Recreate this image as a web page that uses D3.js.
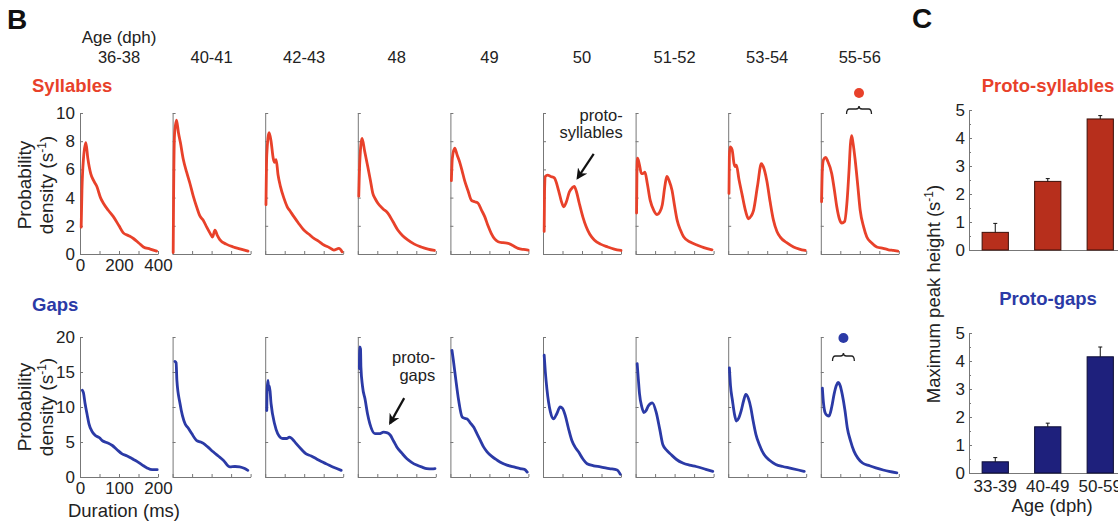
<!DOCTYPE html>
<html>
<head>
<meta charset="utf-8">
<script src="https://cdn.jsdelivr.net/npm/d3@7"></script>
<style>
  body { margin: 0; background: #fff; }
  svg { font-family: "Liberation Sans", Arial, sans-serif; }
  .ax path, .ax line { stroke: #777; stroke-width: 1; }
  .ax text { font-size: 17px; fill: #222; font-family: "Liberation Sans", Arial, sans-serif; }
</style>
</head>
<body>
<svg id="fig" width="1118" height="527"></svg>
<script>
// age groups, one column per group
let ages = ["36-38", "40-41", "42-43", "48", "49", "50", "51-52", "53-54", "55-56"];

// syllable duration densities: [duration ms, density s^-1]
let sylCurves = [
  [[6,1.9],[10,4.5],[18,6.8],[30,7.9],[40,6.8],[55,5.7],[70,5.2],[86,4.8],[105,4.0],[120,3.6],[145,3.1],[171,2.65],[200,2.0],[222,1.5],[250,1.3],[274,1.1],[300,0.8],[325,0.5],[360,0.35],[393,0.2]],
  [[3,0.1],[5,4],[10,8.5],[20,9.5],[30,8.6],[40,7.9],[55,6.7],[72,5.8],[89,5.0],[106,4.1],[123,3.35],[140,2.7],[157,2.4],[175,1.9],[191,1.5],[205,1.2],[217,1.7],[230,1.3],[243,1.0],[275,0.7],[311,0.5],[350,0.35],[387,0.2]],
  [[4,3.5],[8,7.0],[20,8.6],[30,8.0],[41,6.8],[48,6.5],[56,6.7],[66,5.6],[78,4.8],[95,4.0],[113,3.35],[130,3.0],[147,2.65],[170,2.2],[198,1.7],[225,1.4],[250,1.1],[275,0.9],[301,0.64],[330,0.45],[352,0.28],[378,0.4],[395,0.15]],
  [[5,4.1],[10,6.5],[22,8.2],[35,7.3],[51,6.2],[65,5.2],[77,4.3],[90,3.9],[103,3.6],[130,3.2],[154,2.9],[180,2.3],[205,1.7],[230,1.3],[256,1.0],[290,0.7],[325,0.5],[360,0.35],[393,0.25]],
  [[5,5.2],[10,6.8],[22,7.5],[35,7.0],[48,6.5],[60,5.9],[73,5.2],[90,4.5],[108,3.8],[125,3.7],[142,3.6],[160,3.1],[176,2.65],[193,2.0],[210,1.45],[228,1.05],[245,0.87],[270,0.8],[296,0.76],[320,0.6],[347,0.4],[375,0.32],[399,0.28]],
  [[6,1.6],[8,4.5],[12,5.5],[24,5.6],[40,5.5],[58,5.4],[80,4.5],[95,3.7],[106,3.35],[120,3.7],[135,4.4],[150,4.7],[160,4.8],[172,4.4],[186,3.6],[205,2.6],[221,1.95],[240,1.4],[263,1.0],[295,0.7],[332,0.5],[365,0.35],[400,0.25]],
  [[5,2.9],[7,6.0],[10,6.8],[20,6.3],[30,5.7],[38,5.7],[48,5.8],[60,5.0],[75,3.8],[93,3.1],[110,2.8],[125,3.0],[137,3.5],[150,4.8],[160,5.5],[172,5.2],[187,4.5],[200,3.4],[213,2.4],[230,1.7],[247,1.2],[280,0.85],[315,0.64],[350,0.45],[392,0.3]],
  [[4,4.3],[6,7.0],[10,7.6],[20,7.4],[30,6.4],[36,6.2],[42,6.3],[55,5.3],[70,4.3],[90,3.0],[104,2.5],[118,2.7],[130,3.1],[150,4.8],[170,6.4],[180,6.2],[198,5.2],[215,3.7],[232,2.4],[250,1.6],[267,1.2],[300,0.8],[335,0.5],[365,0.35],[395,0.25]],
  [[4,3.7],[8,6.0],[14,6.7],[25,6.85],[35,6.6],[56,5.7],[70,4.5],[82,3.35],[95,2.5],[108,2.2],[122,2.3],[135,3.8],[145,6.0],[152,7.8],[158,8.4],[165,7.9],[176,6.7],[190,4.8],[202,3.1],[220,1.9],[236,1.2],[260,0.8],[287,0.5],[320,0.4],[347,0.3],[372,0.25],[395,0.2]]
];

// gap duration densities: [duration ms, density s^-1]
let gapCurves = [
  [[6,12.4],[9,12.0],[13,10.5],[18,9.0],[23,7.6],[30,6.6],[38,6.0],[50,5.6],[57,5.2],[70,4.9],[83,4.5],[95,3.9],[108,3.3],[121,3.0],[134,2.6],[147,2.2],[160,1.7],[172,1.3],[185,1.05],[198,1.05]],
  [[6,16.5],[9,16.3],[11,13.8],[19,10.5],[32,7.6],[40,7.0],[49,6.2],[62,5.2],[72,5.0],[79,4.8],[90,4.3],[104,3.6],[117,3.0],[130,2.4],[147,1.45],[160,1.5],[172,1.45],[185,1.2],[193,0.95]],
  [[4,9.5],[5,12.5],[7,13.8],[9,12.5],[11,13.0],[15,10.5],[24,7.6],[32,6.2],[45,5.5],[55,5.5],[62,5.7],[70,5.4],[79,4.8],[92,4.0],[105,3.3],[118,3.0],[131,2.6],[144,2.2],[156,1.9],[175,1.4],[195,0.95]],
  [[4,15.5],[5,18.6],[7,18.3],[8,15.7],[12,13.0],[19,11.0],[25,9.0],[31,7.6],[44,6.2],[55,6.2],[66,6.4],[76,6.3],[83,6.0],[92,5.1],[100,4.3],[113,3.4],[126,2.6],[138,2.1],[151,1.7],[165,1.4],[177,1.2],[190,1.15],[198,1.2]],
  [[4,18.1],[8,16.5],[13,14.3],[21,11.0],[30,8.6],[36,8.4],[43,8.3],[50,7.8],[60,7.1],[68,6.2],[77,5.2],[85,4.3],[94,3.6],[107,2.9],[120,2.4],[132,2.0],[145,1.7],[165,1.4],[179,1.2],[190,1.1],[197,0.7]],
  [[3,17.4],[6,15.0],[10,12.6],[19,9.3],[27,8.3],[35,9.0],[44,10.0],[50,9.8],[57,8.8],[65,7.0],[74,5.2],[82,4.3],[91,3.6],[102,2.6],[113,1.9],[130,1.6],[147,1.45],[170,1.2],[190,1.0],[198,0.4]],
  [[4,16.2],[7,14.0],[10,11.9],[16,10.0],[21,9.2],[27,9.5],[32,10.1],[43,10.6],[53,9.2],[62,6.8],[70,4.6],[80,3.8],[91,3.2],[105,2.5],[121,2.0],[138,1.7],[155,1.5],[180,1.1],[198,0.8]],
  [[3,15.6],[6,13.0],[11,10.9],[16,9.0],[21,8.0],[27,8.4],[33,9.4],[40,11.0],[45,11.8],[52,11.2],[58,9.9],[64,8.0],[71,6.1],[80,4.6],[92,3.2],[106,2.4],[122,1.8],[140,1.5],[156,1.3],[180,1.0],[195,0.8]],
  [[4,12.7],[7,10.5],[11,9.2],[16,8.8],[21,8.7],[28,10.0],[34,11.8],[40,13.1],[44,13.5],[50,13.0],[55,11.8],[62,9.5],[68,7.0],[76,5.2],[85,3.7],[95,2.7],[107,2.0],[125,1.6],[141,1.3],[160,1.0],[175,0.8],[195,0.6]]
];

let sylYTicks = [0, 2, 4, 6, 8, 10];
let sylXTicks = [0, 100, 200, 300, 400];
let gapYTicks = [0, 5, 10, 15, 20];
let gapXTicks = [0, 50, 100, 150, 200];

// panel C: maximum peak height by age group
let barAges = ["33-39", "40-49", "50-59"];
let protoSylPeak = [0.63, 2.45, 4.68];
let protoSylErr = [0.32, 0.1, 0.12];
let protoGapPeak = [0.4, 1.65, 4.15];
let protoGapErr = [0.15, 0.13, 0.35];
let barYTicks = [0, 1, 2, 3, 4, 5];

let red = "#e8412a", blue = "#2b3aa6";
let svg = d3.select("#fig");

svg.append("text").attr("x", 7).attr("y", 29).attr("font-size", 28).attr("font-weight", "bold").attr("fill", "#111").text("B");
svg.append("text").attr("x", 912).attr("y", 28).attr("font-size", 28).attr("font-weight", "bold").attr("fill", "#111").text("C");

let panelLeft = 80, panelStep = 92.6, panelW = 78;

svg.append("text").attr("x", panelLeft + panelW / 2).attr("y", 43).attr("text-anchor", "middle")
  .attr("font-size", 17).attr("fill", "#222").text("Age (dph)");

svg.selectAll(".age").data(ages).enter().append("text")
  .attr("class", "age")
  .attr("x", (d, i) => panelLeft + i * panelStep + panelW / 2)
  .attr("y", 63).attr("text-anchor", "middle").attr("font-size", 16.5).attr("fill", "#222")
  .text(d => d);

let rows = [
  { name: "Syllables", color: red, curves: sylCurves, xMax: 400, yMax: 10, top: 113, bottom: 254,
    yTicks: sylYTicks, xTicks: sylXTicks, xLab: d => d % 200 === 0 ? d : "", labelY: 92, titleY: 185 },
  { name: "Gaps", color: blue, curves: gapCurves, xMax: 200, yMax: 20, top: 337, bottom: 477,
    yTicks: gapYTicks, xTicks: gapXTicks, xLab: d => d % 100 === 0 ? d : "", labelY: 311, titleY: 407 }
];

let scales = [];

rows.forEach(function(row, r) {
  svg.append("text").attr("x", 32).attr("y", row.labelY).attr("font-size", 18.5)
    .attr("font-weight", "bold").attr("fill", row.color).text(row.name);

  svg.append("text").attr("transform", "translate(31," + row.titleY + ") rotate(-90)")
    .attr("text-anchor", "middle").attr("font-size", 19).attr("fill", "#222").text("Probability");
  let t2 = svg.append("text").attr("transform", "translate(53," + row.titleY + ") rotate(-90)")
    .attr("text-anchor", "middle").attr("font-size", 19).attr("fill", "#222");
  t2.append("tspan").text("density (s");
  t2.append("tspan").attr("font-size", 12).attr("baseline-shift", "super").text("-1");
  t2.append("tspan").text(")");

  let y = d3.scaleLinear().domain([0, row.yMax]).range([row.bottom, row.top]);
  scales[r] = [];

  row.curves.forEach(function(curve, i) {
    let x0 = panelLeft + i * panelStep;
    let x = d3.scaleLinear().domain([0, row.xMax]).range([x0, x0 + panelW]);
    scales[r][i] = { x: x, y: y };

    let yAxis = d3.axisLeft(y).tickValues(row.yTicks).tickSize(-3).tickSizeOuter(0).tickPadding(5);
    if (i > 0) yAxis.tickFormat("");
    svg.append("g").attr("class", "ax").attr("transform", "translate(" + x0 + ",0)").call(yAxis);

    let xAxis = d3.axisBottom(x).tickValues(row.xTicks).tickSize(-3).tickSizeOuter(0).tickPadding(5);
    xAxis.tickFormat(i > 0 ? "" : row.xLab);
    svg.append("g").attr("class", "ax").attr("transform", "translate(0," + row.bottom + ")").call(xAxis);

    let line = d3.line().x(d => x(d[0])).y(d => y(d[1])).curve(d3.curveMonotoneX);
    svg.append("path").datum(curve).attr("d", line)
      .attr("fill", "none").attr("stroke", row.color).attr("stroke-width", 2.8)
      .attr("stroke-linejoin", "round").attr("stroke-linecap", "round");
  });
});

svg.append("text").attr("x", 124).attr("y", 517).attr("text-anchor", "middle")
  .attr("font-size", 18.5).attr("fill", "#222").text("Duration (ms)");

// arrow annotations
svg.append("defs").append("marker").attr("id", "head")
  .attr("viewBox", "0 0 10 10").attr("refX", 8).attr("refY", 5)
  .attr("markerWidth", 5).attr("markerHeight", 5).attr("orient", "auto")
  .append("path").attr("d", "M0,0 L10,5 L0,10 L3,5 z").attr("fill", "#111");

let notes = [
  { row: 0, panel: 5, ms: 178, dens: 5.4, lines: ["proto-", "syllables"], tail: [16, -24], textDx: 45, textDy: [-57, -40] },
  { row: 1, panel: 3, ms: 83, dens: 7.7, lines: ["proto-", "gaps"], tail: [14, -25], textDx: 45, textDy: [-60, -42] }
];
notes.forEach(function(n) {
  let s = scales[n.row][n.panel];
  let tx = s.x(n.ms), ty = s.y(n.dens);
  svg.append("line").attr("x1", tx + n.tail[0]).attr("y1", ty + n.tail[1]).attr("x2", tx).attr("y2", ty)
    .attr("stroke", "#111").attr("stroke-width", 2.2).attr("marker-end", "url(#head)");
  n.lines.forEach(function(l, k) {
    svg.append("text").attr("x", tx + n.textDx).attr("y", ty + n.textDy[k]).attr("text-anchor", "end")
      .attr("font-size", 16.5).attr("fill", "#222").text(l);
  });
});

// dots with braces over the proto peaks
let marks = [
  { row: 0, panel: 8, ms: 196, half: 64, dotY: 93, braceY: 109, color: red },
  { row: 1, panel: 8, ms: 58, half: 28, dotY: 338, braceY: 356, color: blue }
];
marks.forEach(function(m) {
  let s = scales[m.row][m.panel];
  let cx = s.x(m.ms), x1 = s.x(m.ms - m.half), x2 = s.x(m.ms + m.half), by = m.braceY;
  svg.append("circle").attr("cx", cx).attr("cy", m.dotY).attr("r", 5).attr("fill", m.color);
  svg.append("path")
    .attr("d", "M" + x1 + "," + (by + 5) + "Q" + x1 + "," + by + " " + (x1 + 3) + "," + by +
      "L" + (cx - 3) + "," + by + "Q" + cx + "," + by + " " + cx + "," + (by - 3) +
      "Q" + cx + "," + by + " " + (cx + 3) + "," + by +
      "L" + (x2 - 3) + "," + by + "Q" + x2 + "," + by + " " + x2 + "," + (by + 5))
    .attr("fill", "none").attr("stroke", "#222").attr("stroke-width", 1.3);
});

// panel C bar charts
let bx = d3.scaleBand().domain(barAges).range([969, 1126.5]).paddingInner(0.5).paddingOuter(0.25);
let bars = [
  { title: "Proto-syllables", color: red, fill: "#b72f1c", edge: "#3d0f08", vals: protoSylPeak, errs: protoSylErr, top: 110, bottom: 250, titleY: 92 },
  { title: "Proto-gaps", color: blue, fill: "#1e207c", edge: "#0b0b35", vals: protoGapPeak, errs: protoGapErr, top: 333, bottom: 473, titleY: 305 }
];
bars.forEach(function(b, k) {
  let y = d3.scaleLinear().domain([0, 5]).range([b.bottom, b.top]);
  svg.append("text").attr("x", 1048).attr("y", b.titleY).attr("text-anchor", "middle")
    .attr("font-size", 18.5).attr("font-weight", "bold").attr("fill", b.color).text(b.title);

  svg.append("g").attr("class", "ax").attr("transform", "translate(969,0)")
    .call(d3.axisLeft(y).tickValues(barYTicks).tickFormat(d3.format("d")).tickSize(-3).tickSizeOuter(0).tickPadding(4));
  svg.append("g").attr("class", "ax").attr("transform", "translate(969,0)")
    .call(d3.axisLeft(y).tickValues([0.5, 1.5, 2.5, 3.5, 4.5]).tickSize(-2).tickSizeOuter(0).tickFormat(""))
    .select(".domain").remove();

  let xAxis = d3.axisBottom(bx).tickSize(0).tickSizeOuter(0).tickPadding(7);
  if (k === 0) xAxis.tickFormat("");
  svg.append("g").attr("class", "ax").attr("transform", "translate(0," + b.bottom + ")").call(xAxis);

  svg.selectAll(".bar" + k).data(b.vals).enter().append("rect")
    .attr("class", "bar" + k)
    .attr("x", (d, i) => bx(barAges[i])).attr("width", bx.bandwidth())
    .attr("y", d => y(d)).attr("height", d => y(0) - y(d))
    .attr("fill", b.fill).attr("stroke", b.edge).attr("stroke-width", 1);

  b.vals.forEach(function(v, i) {
    let cx = bx(barAges[i]) + bx.bandwidth() / 2;
    svg.append("line").attr("x1", cx).attr("x2", cx).attr("y1", y(v)).attr("y2", y(v + b.errs[i]))
      .attr("stroke", "#111").attr("stroke-width", 1);
    svg.append("line").attr("x1", cx - 2).attr("x2", cx + 2).attr("y1", y(v + b.errs[i])).attr("y2", y(v + b.errs[i]))
      .attr("stroke", "#111").attr("stroke-width", 1);
  });
});

let yt = svg.append("text").attr("transform", "translate(940,294) rotate(-90)")
  .attr("text-anchor", "middle").attr("font-size", 18.5).attr("fill", "#222");
yt.append("tspan").text("Maximum peak height (s");
yt.append("tspan").attr("font-size", 12).attr("baseline-shift", "super").text("-1");
yt.append("tspan").text(")");

svg.append("text").attr("x", 1052).attr("y", 512).attr("text-anchor", "middle")
  .attr("font-size", 18.5).attr("fill", "#222").text("Age (dph)");
</script>
</body>
</html>
